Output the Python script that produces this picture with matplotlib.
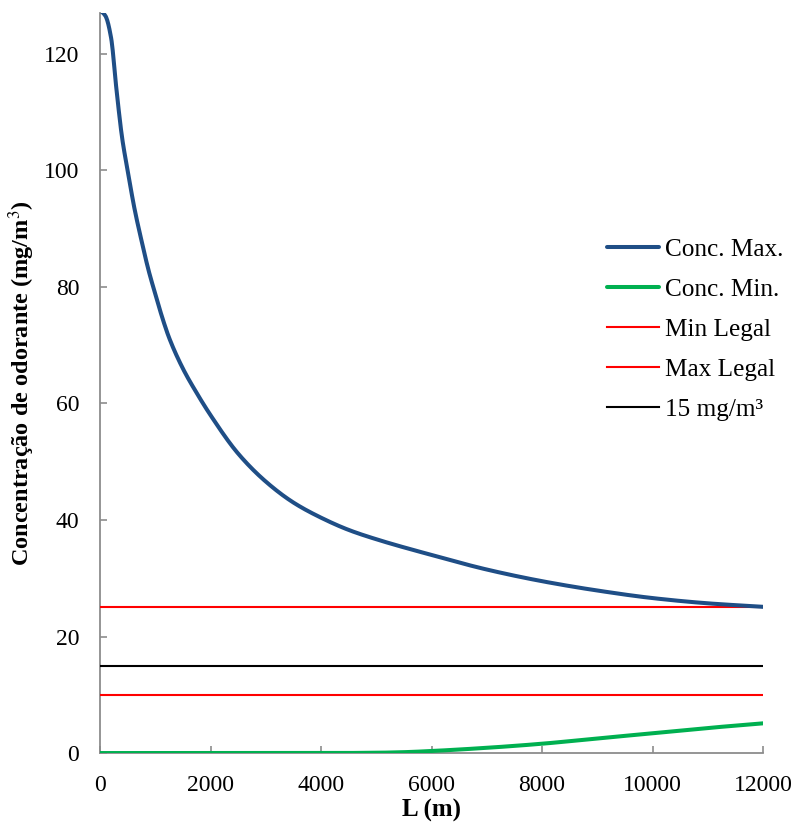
import matplotlib
matplotlib.use("Agg")
import matplotlib.pyplot as plt
import numpy as np

plt.rcParams['font.family'] = ['Liberation Serif', 'DejaVu Serif']
plt.rcParams['mathtext.fontset'] = 'stix'

# Distance along the network (m)
dist_max = [0, 100, 200, 300, 400, 500, 625, 750, 875, 1000, 1125, 1250, 1500, 1750,
            2000, 2500, 3000, 3500, 4000, 4500, 5000, 6000, 7000, 8000, 9000, 10000,
            11000, 12000]
# Maximum odorant concentration (mg/m³)
conc_max = [127.5, 126.5, 122.8, 113.7, 105.6, 100.0, 93.4, 88.0, 83.0, 78.8, 74.8, 71.3,
            66.0, 61.8, 58.0, 51.4, 46.6, 43.0, 40.4, 38.3, 36.7, 34.0, 31.5, 29.5, 27.9,
            26.6, 25.7, 25.1]

dist_min = [0, 1000, 2000, 3000, 4000, 5000, 5500, 6000, 7000, 8000, 9000, 10000, 11000, 12000]
# Minimum odorant concentration (mg/m³)
conc_min = [0.0, 0.0, 0.0, 0.0, 0.0, 0.05, 0.15, 0.35, 0.9, 1.6, 2.5, 3.4, 4.3, 5.1]

x_range = [0, 12000]
legal_min = 25
legal_max = 10
reference_level = 15

x_ticks = [0, 2000, 4000, 6000, 8000, 10000, 12000]
y_ticks = [0, 20, 40, 60, 80, 100, 120]


def pchip(xs, ys, n=1200):
    # Monotone cubic (Fritsch-Carlson) interpolation for a smooth line through the points
    xs = np.asarray(xs, float)
    ys = np.asarray(ys, float)
    h = np.diff(xs)
    d = np.diff(ys) / h
    m = np.zeros_like(ys)
    for k in range(1, len(xs) - 1):
        if d[k - 1] * d[k] > 0:
            w1 = 2 * h[k] + h[k - 1]
            w2 = h[k] + 2 * h[k - 1]
            m[k] = (w1 + w2) / (w1 / d[k - 1] + w2 / d[k])
    m[0] = d[0]
    m[-1] = d[-1]
    xf = np.linspace(xs[0], xs[-1], n)
    idx = np.clip(np.searchsorted(xs, xf) - 1, 0, len(xs) - 2)
    t = (xf - xs[idx]) / h[idx]
    h00 = 2 * t**3 - 3 * t**2 + 1
    h10 = t**3 - 2 * t**2 + t
    h01 = -2 * t**3 + 3 * t**2
    h11 = t**3 - t**2
    yf = h00 * ys[idx] + h10 * h[idx] * m[idx] + h01 * ys[idx + 1] + h11 * h[idx] * m[idx + 1]
    return xf, yf


fig = plt.figure(figsize=(7.95, 8.23), dpi=100)
ax = fig.add_axes([0.1258, 0.085, 0.834, 0.899])

sx, sy = pchip(dist_max, conc_max)
ax.plot(sx, sy, color='#1F4E86', lw=2.9, label='Conc. Max.', solid_capstyle='round', zorder=4)
gx, gy = pchip(dist_min, conc_min)
ax.plot(gx, gy, color='#00B050', lw=2.9, label='Conc. Min.', solid_capstyle='round', zorder=4)
ax.plot(x_range, [legal_min] * 2, color='#FF0000', lw=1.5, label='Min Legal', zorder=3)
ax.plot(x_range, [legal_max] * 2, color='#FF0000', lw=1.5, label='Max Legal', zorder=3)
ax.plot(x_range, [reference_level] * 2, color='#000000', lw=1.5, label='15 mg/m³', zorder=3)

ax.set_xlim(0, 12000)
ax.set_ylim(0, 127)
ax.set_xticks(x_ticks)
ax.set_yticks(y_ticks)
ax.set_xticklabels([str(v) for v in x_ticks])
ax.set_yticklabels([str(v) for v in y_ticks])

for side in ('top', 'right'):
    ax.spines[side].set_visible(False)
for side in ('left', 'bottom'):
    ax.spines[side].set_color('#8C8C8C')
    ax.spines[side].set_linewidth(1.3)

ax.tick_params(axis='both', direction='in', length=5, width=1.2, color='#8C8C8C',
               labelsize=17, labelcolor='black')
ax.tick_params(axis='y', pad=15)
ax.tick_params(axis='x', pad=16)

ax.set_xlabel('L (m)', fontsize=18, fontweight='bold', labelpad=2)
ax.set_ylabel('Concentração de odorante (mg/m$^3$)', fontsize=17.5, fontweight='bold', labelpad=5)

ax.legend(loc='upper left', bbox_to_anchor=(0.749, 0.709), frameon=False, fontsize=18.2,
          handlelength=2.08, handletextpad=0.23, labelspacing=0.68, borderaxespad=0)

fig.savefig('out.png', dpi=100)
